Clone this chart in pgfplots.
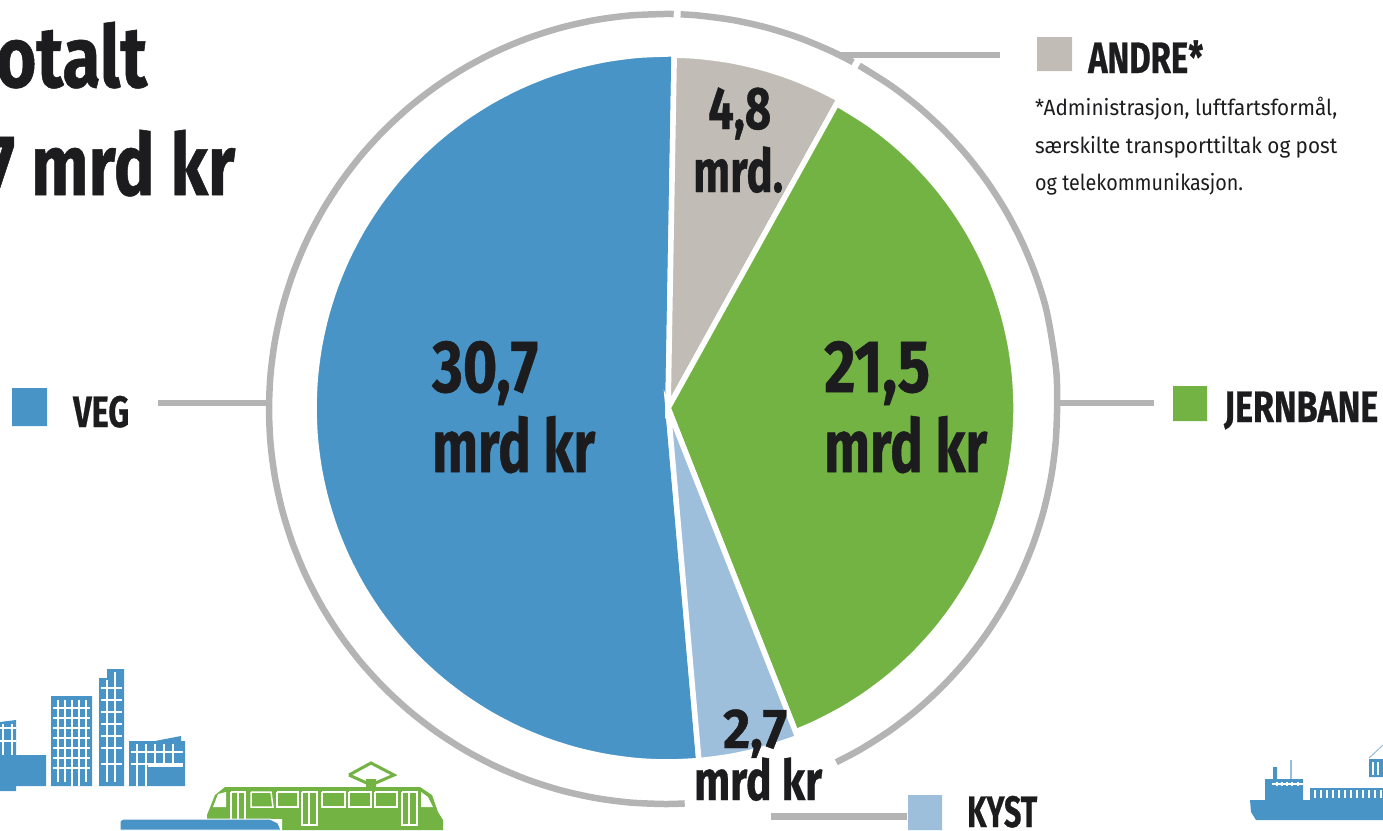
\documentclass[border=0pt]{standalone}
\usepackage{pgfplots}
\pgfplotsset{compat=1.18}
\usepackage{graphicx}
\usepackage{fontspec}
\setmainfont[BoldFeatures={FakeBold=0.7}]{Fira Sans}
\definecolor{cBlue}{RGB}{72,148,198}
\definecolor{cLight}{RGB}{158,191,220}
\definecolor{cGreen}{RGB}{114,179,68}
\definecolor{cGrey}{RGB}{193,189,182}
\definecolor{cRing}{RGB}{180,180,180}
\definecolor{cInk}{RGB}{28,28,30}
\newcommand{\T}[5]{\node[anchor=base west,inner sep=0pt,text=cInk] at (axis cs:#1,#2) {\resizebox{#4pt}{\height}{\fontsize{#3}{#3}\selectfont\bfseries #5}};}
\newcommand{\Tn}[4]{\node[anchor=base west,inner sep=0pt,text=cInk] at (axis cs:#1,#2) {\resizebox{#3pt}{\height}{\fontsize{22}{22}\selectfont #4}};}
\pgfplotsset{base/.style={hide axis,scale only axis,width=1383pt,height=830pt,at={(0pt,0pt)},anchor=south west}}
\begin{document}
\begin{tikzpicture}[x=1pt,y=1pt]
\useasboundingbox (0,0) rectangle (1383,830);
\clip (0,0) rectangle (1383,830);
% pie
\begin{axis}[base,xmin=-668,xmax=715,ymin=-422,ymax=408]
\addplot[smooth,data cs=polar,fill=cBlue,draw=white,line width=5.5pt,line join=miter] coordinates {(-85,354) (-90,354) (-95,354) (-100,354) (-105,354) (-110,354) (-115,354) (-120,354) (-125,354) (-130,354) (-135,354) (-140,354) (-145,354) (-150,354) (-155,354) (-160,354) (-165,354) (-170,354) (-175,354) (-180,354) (-185,354) (-190,354) (-195,354) (-200,354) (-205,354) (-210,354) (-215,354) (-220,354) (-225,354) (-230,354) (-235,354) (-240,354) (-245,354) (-250,354) (-255,354) (-260,354) (-265,354) (-270,354) (-271,354)} -- (axis cs:0,0) -- cycle;
\addplot[smooth,data cs=polar,fill=cGrey,draw=white,line width=5.5pt] coordinates {(89,353) (85,353) (80,353) (75,353) (70,353) (65,353) (61,353)} -- (axis cs:0,0) -- cycle;
\addplot[smooth,data cs=polar,fill=cGreen,draw=white,line width=5.5pt] coordinates {(61,348) (55,348) (50,348) (45,348) (40,348) (35,348) (30,348) (25,348) (20,348) (15,348) (10,348) (5,348) (0,348) (-5,348) (-10,348) (-15,348) (-20,348) (-25,348) (-30,348) (-35,348) (-40,348) (-45,348) (-50,348) (-55,348) (-60,348) (-65,348) (-68.5,348)} -- (axis cs:0,0) -- cycle;
\addplot[smooth,data cs=polar,fill=cLight,draw=white,line width=5.5pt] coordinates {(-68.5,354) (-70,354) (-75,354) (-80,354) (-85,354)} -- (axis cs:0,0) -- cycle;
\end{axis}
% ring
\begin{axis}[base,xmin=-664,xmax=719,ymin=-421,ymax=409]
\addplot[smooth,data cs=polar,cRing,line width=6.5pt] coordinates {(-87,395) (-90,395) (-95,395) (-100,395) (-105,395) (-110,395) (-115,395) (-120,395) (-125,395) (-130,395) (-135,395) (-140,395) (-145,395) (-150,395) (-155,395) (-160,395) (-165,395) (-170,395) (-175,395) (-180,395) (-185,395) (-190,395) (-195,395) (-200,395) (-205,395) (-210,395) (-215,395) (-220,395) (-225,395) (-230,395) (-235,395) (-240,395) (-245,395) (-250,395) (-255,395) (-260,395) (-265,395) (-270,395) (-271.4,395)};
\addplot[smooth,data cs=polar,cRing,line width=6.5pt] coordinates {(87.6,395) (85,395) (80,395) (75,395) (70,395) (65,395) (61.4,395)};
\addplot[smooth,data cs=polar,cRing,line width=6.5pt] coordinates {(60.4,395) (55,395) (50,395) (45,395) (40,395) (35,395) (30,395) (25,395) (20,395) (15,395) (10,394) (5,394) (0,393) (-5,393) (-10,393) (-15,393) (-20,393) (-25,393) (-30,393) (-35,393) (-40,393) (-45,393) (-50,393) (-55,393) (-60,393) (-64,393)};
\end{axis}
% everything else, in picture pixels
\begin{axis}[base,xmin=0,xmax=1383,ymin=0,ymax=830,y dir=reverse]
% leaders
\addplot[cRing,line width=6.5pt] coordinates {(158,403) (270,403)};
\addplot[cRing,line width=6.5pt] coordinates {(1060,403) (1154,403)};
\addplot[cRing,line width=6.5pt] coordinates {(838,55) (1000,55)};
\addplot[cRing,line width=7pt] coordinates {(771,816) (907,816)};
% legend squares
\addplot[fill=cBlue,draw=none] coordinates {(12,388) (47,388) (47,426) (12,426) (12,388)};
\addplot[fill=cGreen,draw=none] coordinates {(1173,386) (1207,386) (1207,421) (1173,421) (1173,386)};
\addplot[fill=cGrey,draw=none] coordinates {(1037,37) (1072,37) (1072,71) (1037,71) (1037,37)};
\addplot[fill=cLight,draw=none] coordinates {(908,795) (942,795) (942,830) (908,830) (908,795)};
% buildings
\addplot[fill=cBlue,draw=none] coordinates {(0,755) (46,755) (46,786) (16,786) (16,791) (0,791) (0,755)};
\addplot[fill=cBlue,draw=none] coordinates {(0,722) (16,720) (16,755) (0,755) (0,722)};
\addplot[fill=cBlue,draw=none] coordinates {(51,696) (92,696) (92,786) (51,786) (51,696)};
\addplot[fill=cBlue,draw=none] coordinates {(107,669) (124,669) (124,786) (99,786) (99,678) (107,678) (107,669)};
\addplot[fill=cBlue,draw=none] coordinates {(129,741) (155,741) (181,736) (181,741) (185,741) (185,786) (129,786) (129,741)};
\addplot[white,line width=1.1pt,unbounded coords=jump] coordinates {
(0,728) (16,728) (nan,nan) (0,741) (16,741) (nan,nan) (3,724) (3,755) (nan,nan) (12,724) (12,755) (nan,nan)
(53,708) (90,708) (nan,nan) (53,718) (90,718) (nan,nan) (53,728) (90,728) (nan,nan) (53,738) (90,738) (nan,nan) (53,748) (90,748) (nan,nan) (53,758) (90,758) (nan,nan) (53,768) (90,768) (nan,nan)
(58,700) (58,782) (nan,nan) (65,700) (65,782) (nan,nan) (72,700) (72,786) (nan,nan) (79,700) (79,786) (nan,nan) (86,700) (86,782) (nan,nan)
(101,688) (122,688) (nan,nan) (101,700) (122,700) (nan,nan) (101,712) (122,712) (nan,nan) (101,724) (122,724) (nan,nan) (101,736) (122,736) (nan,nan) (101,748) (122,748) (nan,nan) (101,764) (122,764) (nan,nan)
(107,680) (107,782) (nan,nan) (115,672) (115,782) (nan,nan)
(131,752) (183,752) (nan,nan) (131,764) (183,764) (nan,nan) (148,766) (183,766) (nan,nan)
(137,744) (137,786) (nan,nan) (146,744) (146,786) (nan,nan) (155,744) (155,764) (nan,nan) (164,744) (164,764) (nan,nan) (173,744) (173,764) (nan,nan)
};
% train
\addplot[cGreen,line width=3pt] coordinates {(349,775) (371,763) (394,775) (371,785) (349,775)};
\addplot[fill=cGreen,draw=none] coordinates {(366,779) (376,779) (376,789) (366,789) (366,779)};
\addplot[fill=cGreen,draw=none] coordinates {(207,830) (207,815) (215,795) (225,787) (420,787) (432,795) (438,812) (443,820) (443,830) (207,830)};
\addplot[fill=white,draw=none] coordinates {(213,807) (218,794) (226,792) (226,807) (213,807)};
\addplot[fill=white,draw=none] coordinates {(421,792) (428,797) (433,807) (421,807) (421,792)};
\addplot[white,line width=1.5pt] coordinates {(251,792) (271,792) (273,807) (251,807) (251,792)};
\addplot[white,line width=1.5pt] coordinates {(277,792) (298,792) (298,807) (277,807) (277,792)};
\addplot[white,line width=1.5pt] coordinates {(322,792) (345,792) (345,807) (322,807) (322,792)};
\addplot[white,line width=1.5pt] coordinates {(349,792) (371,792) (371,807) (349,807) (349,792)};
\addplot[white,line width=1.5pt] coordinates {(375,792) (397,792) (397,807) (375,807) (375,792)};
\addplot[white,line width=1.5pt] coordinates {(231,792) (245,792) (245,825) (231,825) (231,792)};
\addplot[white,line width=1.5pt] coordinates {(302,792) (317,792) (317,825) (302,825) (302,792)};
\addplot[white,line width=1.5pt] coordinates {(402,792) (417,792) (417,825) (402,825) (402,792)};
\addplot[white,line width=1.5pt] coordinates {(238,792) (238,825)};
\addplot[white,line width=1.5pt] coordinates {(309,792) (309,825)};
\addplot[white,line width=1.5pt] coordinates {(409,792) (409,825)};
\addplot[fill=white,draw=none] coordinates {(270,819) (282,819) (282,830) (270,830) (270,819)};
\addplot[fill=cBlue,draw=white,line width=1pt] coordinates {(120,830) (120,821) (123,819) (270,819) (278,823) (281,830) (120,830)};
% ship
\addplot[fill=cBlue,draw=none] coordinates {(1250,800) (1265,800) (1265,779) (1303,779) (1303,800) (1383,800) (1383,820) (1256,820) (1251,812) (1250,800)};
\addplot[fill=cBlue,draw=none] coordinates {(1273,767) (1277,767) (1277,779) (1273,779) (1273,767)};
\addplot[cBlue!60,line width=1.2pt] coordinates {(1291,760) (1291,779)};
\addplot[fill=cBlue,draw=none] coordinates {(1310,788) (1383,788) (1383,800) (1310,800) (1310,788)};
\addplot[fill=cBlue,draw=none] coordinates {(1369,759) (1383,759) (1383,777) (1369,777) (1369,759)};
\addplot[cBlue!60,line width=1pt] coordinates {(1369,758) (1383,745)};
\addplot[white,line width=1.2pt,unbounded coords=jump] coordinates {(1277,782) (1277,786) (nan,nan) (1282,782) (1282,786) (nan,nan) (1287,782) (1287,786) (nan,nan) (1292,782) (1292,786) (nan,nan) (1298,782) (1298,786) (nan,nan)
(1272,784) (1303,784) (nan,nan)
(1315,790) (1315,798) (nan,nan) (1321,790) (1321,798) (nan,nan) (1327,790) (1327,798) (nan,nan) (1333,790) (1333,798) (nan,nan) (1339,790) (1339,798) (nan,nan) (1345,790) (1345,798) (nan,nan) (1351,790) (1351,798) (nan,nan) (1357,790) (1357,798) (nan,nan) (1363,790) (1363,798) (nan,nan) (1369,790) (1369,798) (nan,nan) (1375,790) (1375,798) (nan,nan) (1381,790) (1381,798) (nan,nan)
(1373,762) (1373,775) (nan,nan) (1378,762) (1378,775) (nan,nan)};
% text
\T{-38}{87}{86}{185}{Totalt}
\T{-103}{195}{86}{338}{59,7 mrd kr}
\T{432}{392}{74}{106}{30,7}
\T{432}{472}{74}{163}{mrd kr}
\T{824}{392}{74}{106}{21,5}
\T{824}{472}{74}{163}{mrd kr}
\T{708}{129}{60}{63}{4,8}
\T{693}{192}{60}{90}{mrd.}
\T{723}{748}{56}{64}{2,7}
\T{694}{800}{56}{128}{mrd kr}
\T{73}{427}{44}{56}{VEG}
\T{1224}{422}{44}{154}{JERNBANE}
\T{1088}{73}{44}{115}{ANDRE*}
\T{967}{827}{44}{70}{KYST}
\Tn{1035}{115}{302}{*Administrasjon, luftfartsformål,}
\Tn{1035}{153}{302}{særskilte transporttiltak og post}
\Tn{1035}{190}{208}{og telekommunikasjon.}
\end{axis}
\end{tikzpicture}
\end{document}
